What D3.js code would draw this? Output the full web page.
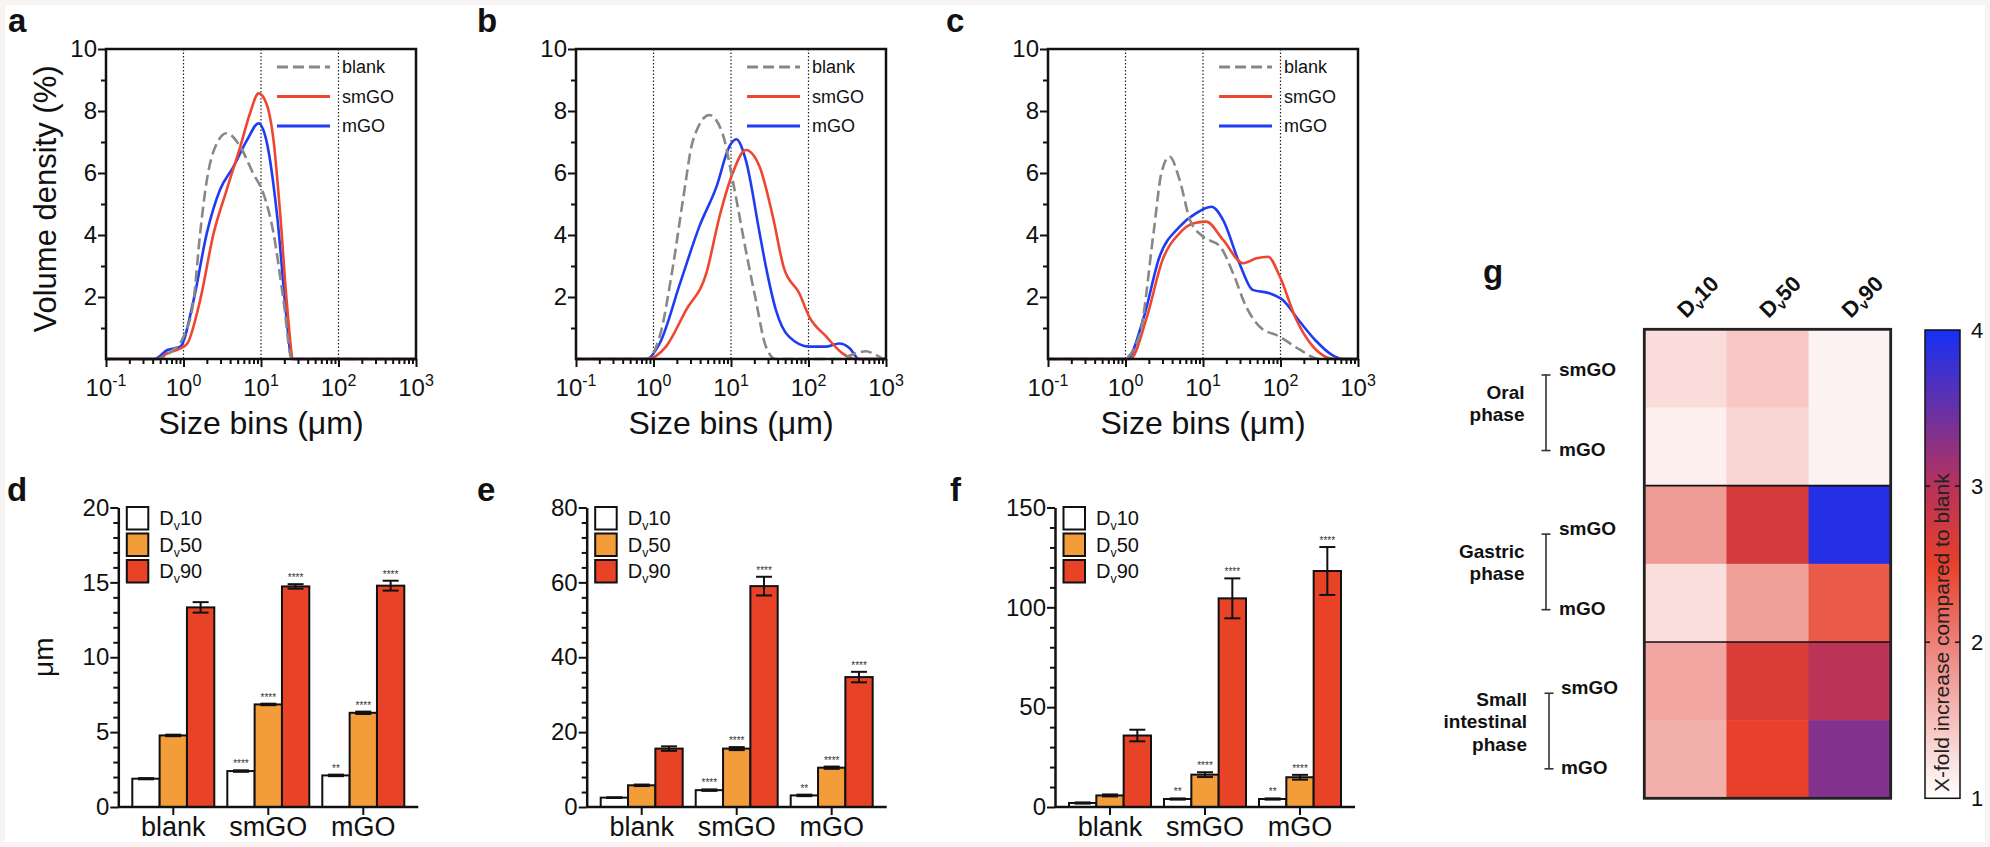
<!DOCTYPE html>
<html><head><meta charset="utf-8">
<script src="https://cdn.jsdelivr.net/npm/d3@7"></script>
<style>
body{margin:0;background:#f7f4f3;}
svg{display:block;font-family:"Liberation Sans",Arial,Helvetica,sans-serif;}
</style></head><body>
<svg id="fig" width="1990" height="847"></svg>
<script>
// ---------------- DATA ----------------
const seriesNames = ["blank", "smGO", "mGO"];
const sizeTicks = [0.1, 1, 10, 100, 1000];
const sizeTickExp = ["-1", "0", "1", "2", "3"];
const volTicks = [2, 4, 6, 8, 10];

// panel a (oral) : [size µm, volume density %]
const aBlank = [[0.1,0],[0.46,0],[0.7,0.25],[1.0,0.72],[1.35,1.9],[1.64,4.06],[2.0,5.77],[2.7,6.96],[3.6,7.28],[5.4,6.85],[7.9,5.99],[10.7,5.35],[14.5,4.06],[19.5,1.9],[25,0],[1000,0]];
const aSmGO  = [[0.1,0],[0.46,0],[0.62,0.18],[0.91,0.34],[1.12,0.5],[1.64,1.9],[2.45,4.06],[3.6,5.45],[5.4,6.85],[7.2,7.92],[9.3,8.57],[11.7,8.25],[14.5,7.06],[17.8,4.59],[21.4,1.9],[26.3,0],[1000,0]];
const aMGO   = [[0.1,0],[0.42,0],[0.62,0.29],[0.91,0.4],[1.35,1.9],[2.0,4.06],[2.95,5.45],[4.4,6.2],[6.6,7.06],[9.3,7.6],[11.7,7.06],[16.2,4.59],[21.4,1.3],[25,0],[1000,0]];
// panel b (gastric)
const bBlank = [[0.1,0],[0.81,0],[1.2,0.72],[1.78,2.98],[2.4,5.13],[3.24,7.06],[5.25,7.87],[7.76,7.28],[10.5,5.77],[15.5,3.52],[20.9,1.9],[28.2,0.4],[38,0],[250,0],[400,0.18],[550,0.25],[720,0.15],[950,0],[1000,0]];
const bSmGO  = [[0.1,0],[0.81,0],[1.45,0.4],[2.63,1.58],[4.8,2.76],[7.1,4.59],[10.5,5.99],[15.5,6.74],[23.4,6.2],[34.7,4.59],[48,2.95],[76,2.12],[102,1.37],[170,0.72],[275,0.18],[400,0],[1000,0]];
const bMGO   = [[0.1,0],[0.81,0],[1.2,0.5],[2.2,2.44],[3.9,4.27],[6.5,5.56],[9.5,6.85],[11.7,7.09],[15.5,6.42],[23.4,4.06],[28.2,2.98],[38,1.58],[56,0.72],[102,0.4],[170,0.4],[250,0.5],[340,0.35],[450,0],[1000,0]];
// panel c (small intestinal)
const cBlank = [[0.1,0],[0.93,0],[1.5,0.72],[2.3,4.06],[2.9,5.99],[3.7,6.53],[5.0,5.77],[6.8,4.48],[10,3.95],[16.6,3.63],[24.5,2.76],[36,1.69],[54,1.04],[98,0.72],[178,0.3],[316,0],[1000,0]];
const cSmGO  = [[0.1,0],[1.15,0],[1.86,1.3],[3.0,3.19],[5.0,4.06],[7.4,4.37],[11,4.43],[18.2,3.84],[33,3.09],[49,3.25],[69,3.3],[98,2.66],[158,1.3],[263,0.4],[400,0.05],[500,0],[1000,0]];
const cMGO   = [[0.1,0],[1.05,0],[1.7,1.3],[2.75,3.3],[5.0,4.27],[8.1,4.7],[12.9,4.91],[18.2,4.48],[29.5,3.09],[43.7,2.23],[72,2.12],[107,1.9],[178,1.2],[288,0.58],[450,0.15],[630,0],[1000,0]];

// bar panels: rows = blank, smGO, mGO ; cols = Dv10, Dv50, Dv90
const barGroups = ["blank", "smGO", "mGO"];
const barSeries = ["10", "50", "90"];
const dValues = [[1.89, 4.78, 13.33], [2.40, 6.85, 14.73], [2.11, 6.29, 14.78]];
const dErrors = [[0.04, 0.05, 0.35], [0.05, 0.05, 0.15], [0.05, 0.08, 0.33]];
const dStars  = [["", "", ""], ["****", "****", "****"], ["**", "****", "****"]];
const eValues = [[2.5, 5.8, 15.6], [4.5, 15.6, 59.0], [3.1, 10.5, 34.7]];
const eErrors = [[0.1, 0.2, 0.6], [0.2, 0.4, 2.5], [0.2, 0.3, 1.4]];
const eStars  = [["", "", ""], ["****", "****", "****"], ["**", "****", "****"]];
const fValues = [[2.0, 5.8, 35.8], [4.0, 16.2, 104.5], [4.0, 14.9, 118.2]];
const fErrors = [[0.3, 0.5, 2.9], [0.3, 1.2, 10.0], [0.3, 1.2, 12.0]];
const fStars  = [["", "", ""], ["**", "****", "****"], ["**", "****", "****"]];

// heatmap (x-fold increase compared to blank)
const phaseNames = [["Oral", "phase"], ["Gastric", "phase"], ["Small", "intestinal", "phase"]];
const sampleNames = ["smGO", "mGO"];
const heatCols = ["10", "50", "90"];
const heatValues = [
  [1.27, 1.43, 1.10],
  [1.12, 1.32, 1.10],
  [1.78, 2.70, 3.90],
  [1.25, 1.75, 2.30],
  [1.70, 2.65, 2.97],
  [1.62, 2.50, 3.33]
];
const colorbarTicks = [1, 2, 3, 4];
const colorStops = [1, 2, 2.5, 3, 4];
const colorStopColors = ["#ffffff", "#ec8078", "#e8402a", "#b8325a", "#1530f5"];

// ---------------- STYLE ----------------
const lineColors = {blank: "#888888", smGO: "#ef4630", mGO: "#1f3cf5"};
const barColors = ["#ffffff", "#f29c3a", "#e84327"];
const FONT = "Liberation Sans, Arial, Helvetica, sans-serif";

const svg = d3.select("#fig");
svg.append("rect").attr("width", 1990).attr("height", 847).attr("fill", "#f7f4f3");
svg.append("rect").attr("x", 5).attr("y", 5).attr("width", 1980).attr("height", 837).attr("fill", "#ffffff");

function panelLetter(t, x, y) {
  svg.append("text").attr("x", x).attr("y", y).attr("font-size", 33).attr("font-weight", "bold").attr("fill", "#111").text(t);
}
function styleAxis(sel, fs) {
  sel.attr("font-size", fs).attr("font-family", FONT);
  sel.selectAll(".tick line").attr("stroke", "#111").attr("stroke-width", 2);
  sel.selectAll(".tick text").attr("fill", "#111");
}

// ---------------- LINE PANELS ----------------
function drawDist(left, blank, sm, m, letter, letterX, yTitle) {
  const W = 310, top = 49, bottom = 359;
  const x = d3.scaleLog().domain([0.1, 1000]).range([left, left + W]);
  const y = d3.scaleLinear().domain([0, 10]).range([bottom, top]);
  const g = svg.append("g");
  [1, 10, 100].forEach(v => {
    g.append("line").attr("x1", x(v)).attr("x2", x(v)).attr("y1", top).attr("y2", bottom)
      .attr("stroke", "#222").attr("stroke-width", 1.2).attr("stroke-dasharray", "1.5,2");
  });
  const line = d3.line().x(d => x(d[0])).y(d => y(d[1])).curve(d3.curveMonotoneX);
  const sets = {blank: blank, smGO: sm, mGO: m};
  ["mGO", "smGO", "blank"].forEach(k => {
    g.append("path").attr("d", line(sets[k])).attr("fill", "none")
      .attr("stroke", lineColors[k]).attr("stroke-width", 2.6)
      .attr("stroke-dasharray", k === "blank" ? "11,5" : null);
  });
  g.append("rect").attr("x", left).attr("y", top).attr("width", W).attr("height", bottom - top)
    .attr("fill", "none").attr("stroke", "#111").attr("stroke-width", 2.5);
  // y axis
  const ya = g.append("g").attr("transform", `translate(${left},0)`)
    .call(d3.axisLeft(y).tickValues(volTicks).tickSize(8).tickPadding(1).tickFormat(d3.format("d")));
  ya.select(".domain").remove(); styleAxis(ya, 24);
  const ym = g.append("g").attr("transform", `translate(${left},0)`)
    .call(d3.axisLeft(y).tickValues([1, 3, 5, 7, 9]).tickSize(5).tickFormat(""));
  ym.select(".domain").remove(); styleAxis(ym, 10);
  // x axis
  const xa = g.append("g").attr("transform", `translate(0,${bottom})`)
    .call(d3.axisBottom(x).tickValues(sizeTicks).tickSize(8).tickFormat(""));
  xa.select(".domain").remove(); styleAxis(xa, 10);
  const minors = [];
  [0.1, 1, 10, 100].forEach(dv => { for (let k = 2; k <= 9; k++) minors.push(dv * k); });
  const xm = g.append("g").attr("transform", `translate(0,${bottom})`)
    .call(d3.axisBottom(x).tickValues(minors).tickSize(5).tickFormat(""));
  xm.select(".domain").remove(); styleAxis(xm, 10);
  sizeTicks.forEach((v, i) => {
    const t = g.append("text").attr("x", x(v)).attr("y", 396).attr("text-anchor", "middle")
      .attr("font-size", 24).attr("fill", "#111");
    t.append("tspan").text("10");
    t.append("tspan").attr("dy", -10).attr("font-size", 16).text(sizeTickExp[i]);
  });
  g.append("text").attr("x", left + W / 2).attr("y", 434).attr("text-anchor", "middle")
    .attr("font-size", 32).attr("fill", "#111").text("Size bins (μm)");
  if (yTitle) {
    g.append("text").attr("transform", `translate(${left - 50},${(top + bottom) / 2 - 5}) rotate(-90)`)
      .attr("text-anchor", "middle").attr("font-size", 31).attr("fill", "#111").text(yTitle);
  }
  // legend
  seriesNames.forEach((k, i) => {
    const ly = top + 18 + i * 29.5;
    g.append("line").attr("x1", left + 171).attr("x2", left + 224).attr("y1", ly).attr("y2", ly)
      .attr("stroke", lineColors[k]).attr("stroke-width", 2.8)
      .attr("stroke-dasharray", k === "blank" ? "11,5" : null);
    g.append("text").attr("x", left + 236).attr("y", ly + 6).attr("font-size", 18).attr("fill", "#111").text(k);
  });
  panelLetter(letter, letterX, 32);
}

drawDist(106, aBlank, aSmGO, aMGO, "a", 8, "Volume density (%)");
drawDist(576, bBlank, bSmGO, bMGO, "b", 477, null);
drawDist(1048, cBlank, cSmGO, cMGO, "c", 946, null);

// ---------------- BAR PANELS ----------------
function dLabel(sel, num, fs, sub) {
  sel.append("tspan").text("D");
  sel.append("tspan").attr("dy", sub).attr("font-size", fs * 0.62).text("v");
  sel.append("tspan").attr("dy", -sub).text(num);
}

function drawBars(x0, yMax, majors, minorStep, values, errors, stars, letter, letterX, yTitle) {
  const top = 507.5, bottom = 807, W = 300;
  const y = d3.scaleLinear().domain([0, yMax]).range([bottom, top]);
  const xg = d3.scaleBand().domain(barGroups).range([x0 + 7.5, x0 + 292.5]).paddingInner(0.137).paddingOuter(0.0685);
  const xs = d3.scaleBand().domain(barSeries).range([0, xg.bandwidth()]);
  const g = svg.append("g");
  barGroups.forEach((grp, i) => {
    barSeries.forEach((s, j) => {
      const v = values[i][j], e = errors[i][j];
      const bx = xg(grp) + xs(s), cx = bx + xs.bandwidth() / 2;
      g.append("rect").attr("x", bx).attr("y", y(v)).attr("width", xs.bandwidth()).attr("height", bottom - y(v))
        .attr("fill", barColors[j]).attr("stroke", "#111").attr("stroke-width", 2);
      g.append("line").attr("x1", cx).attr("x2", cx).attr("y1", y(v - e)).attr("y2", y(v + e)).attr("stroke", "#111").attr("stroke-width", 2);
      [v - e, v + e].forEach(val => {
        g.append("line").attr("x1", cx - 8).attr("x2", cx + 8).attr("y1", y(val)).attr("y2", y(val)).attr("stroke", "#111").attr("stroke-width", 2);
      });
      if (stars[i][j]) {
        g.append("text").attr("x", cx).attr("y", y(v + e) - 3).attr("text-anchor", "middle")
          .attr("font-size", 10).attr("fill", "#333").text(stars[i][j]);
      }
    });
  });
  const ya = g.append("g").attr("transform", `translate(${x0},0)`)
    .call(d3.axisLeft(y).tickValues(majors).tickSize(8).tickSizeOuter(0).tickPadding(1));
  ya.select(".domain").attr("stroke", "#111").attr("stroke-width", 2.5); styleAxis(ya, 24);
  const minors = d3.range(0, yMax + 0.001, minorStep).filter(v => !majors.includes(v));
  const ym = g.append("g").attr("transform", `translate(${x0},0)`)
    .call(d3.axisLeft(y).tickValues(minors).tickSize(5).tickFormat(""));
  ym.select(".domain").remove(); styleAxis(ym, 10);
  g.append("line").attr("x1", x0).attr("x2", x0 + W).attr("y1", bottom).attr("y2", bottom).attr("stroke", "#111").attr("stroke-width", 2.5);
  barGroups.forEach(grp => {
    const cx = xg(grp) + xg.bandwidth() / 2;
    g.append("line").attr("x1", cx).attr("x2", cx).attr("y1", bottom).attr("y2", bottom + 8).attr("stroke", "#111").attr("stroke-width", 2);
    g.append("text").attr("x", cx).attr("y", 836).attr("text-anchor", "middle").attr("font-size", 27).attr("fill", "#111").text(grp);
  });
  // legend
  barSeries.forEach((s, j) => {
    const ly = 507 + j * 26.5;
    g.append("rect").attr("x", x0 + 8.5).attr("y", ly).attr("width", 21.5).attr("height", 22.5)
      .attr("fill", barColors[j]).attr("stroke", "#111").attr("stroke-width", 2);
    const t = g.append("text").attr("x", x0 + 41).attr("y", ly + 18).attr("font-size", 20).attr("fill", "#111");
    dLabel(t, s, 20, 5);
  });
  if (yTitle) {
    g.append("text").attr("transform", `translate(${x0 - 65},${(top + bottom) / 2}) rotate(-90)`)
      .attr("text-anchor", "middle").attr("font-size", 28).attr("fill", "#111").text(yTitle);
  }
  panelLetter(letter, letterX, 501);
}

drawBars(118.3, 20, [0, 5, 10, 15, 20], 1, dValues, dErrors, dStars, "d", 7, "μm");
drawBars(586.7, 80, [0, 20, 40, 60, 80], 4, eValues, eErrors, eStars, "e", 477, null);
drawBars(1055, 150, [0, 50, 100, 150], 10, fValues, fErrors, fStars, "f", 950, null);

// ---------------- HEATMAP ----------------
(function () {
  const hx0 = 1644.3, hx1 = 1890.7, hy0 = 329.3, hy1 = 798.3;
  const rowKeys = [];
  phaseNames.forEach((p, pi) => sampleNames.forEach(s => rowKeys.push(pi + "-" + s)));
  const xb = d3.scaleBand().domain(heatCols).range([hx0, hx1]);
  const yb = d3.scaleBand().domain(rowKeys).range([hy0, hy1]);
  const color = d3.scaleLinear().domain(colorStops).range(colorStopColors).interpolate(d3.interpolateRgb);
  const g = svg.append("g");
  rowKeys.forEach((rk, ri) => {
    heatCols.forEach((c, ci) => {
      g.append("rect").attr("x", xb(c)).attr("y", yb(rk)).attr("width", xb.bandwidth() + 0.5).attr("height", yb.bandwidth() + 0.5)
        .attr("fill", color(heatValues[ri][ci]));
    });
  });
  [2, 4].forEach(ri => {
    const yy = yb(rowKeys[ri]);
    g.append("line").attr("x1", hx0).attr("x2", hx1).attr("y1", yy).attr("y2", yy).attr("stroke", "#111").attr("stroke-width", 1.6);
  });
  g.append("rect").attr("x", hx0).attr("y", hy0).attr("width", hx1 - hx0).attr("height", hy1 - hy0)
    .attr("fill", "none").attr("stroke", "#222").attr("stroke-width", 2.8);
  // column labels
  heatCols.forEach(c => {
    const cx = xb(c) + xb.bandwidth() / 2;
    const t = g.append("text").attr("transform", `translate(${cx + 1},${319}) rotate(-45)`)
      .attr("font-size", 22).attr("font-weight", "bold").attr("fill", "#111");
    dLabel(t, c, 22, 4);
  });
  // row labels, brackets, phase labels
  const labelCenters = rowKeys.map((rk, ri) => yb(rk) + yb.bandwidth() / 2 + 0.6 + 1.4 * ri);
  rowKeys.forEach((rk, ri) => {
    const pi = Math.floor(ri / 2);
    g.append("text").attr("x", pi === 2 ? 1561 : 1559).attr("y", labelCenters[ri] + 7)
      .attr("font-size", 19).attr("font-weight", "bold").attr("fill", "#111").text(sampleNames[ri % 2]);
  });
  phaseNames.forEach((lines, pi) => {
    const t0 = labelCenters[pi * 2] + 6, t1 = labelCenters[pi * 2 + 1] + 2;
    const bx = pi === 2 ? 1549 : 1546;
    g.append("line").attr("x1", bx).attr("x2", bx).attr("y1", t0).attr("y2", t1).attr("stroke", "#333").attr("stroke-width", 1.6);
    [t0, t1].forEach(yy => g.append("line").attr("x1", bx - 4.5).attr("x2", bx + 4.5).attr("y1", yy).attr("y2", yy).attr("stroke", "#333").attr("stroke-width", 1.6));
    const mid = (t0 + t1) / 2;
    lines.forEach((ln, k) => {
      g.append("text").attr("x", pi === 2 ? 1527 : 1524.5).attr("y", mid - 3 - (lines.length - 1) * 11.25 + k * 22.5)
        .attr("text-anchor", "end").attr("font-size", 19).attr("font-weight", "bold").attr("fill", "#111").text(ln);
    });
  });
  // colorbar
  const cbX = 1925, cbW = 35;
  const cbY = d3.scaleLinear().domain([1, 4]).range([hy1, 330]);
  const grad = svg.append("defs").append("linearGradient").attr("id", "cbgrad")
    .attr("x1", 0).attr("y1", 1).attr("x2", 0).attr("y2", 0);
  colorStops.forEach((v, i) => grad.append("stop").attr("offset", (v - 1) / 3).attr("stop-color", colorStopColors[i]));
  g.append("rect").attr("x", cbX).attr("y", cbY(4)).attr("width", cbW).attr("height", cbY(1) - cbY(4))
    .attr("fill", "url(#cbgrad)").attr("stroke", "#111").attr("stroke-width", 1.5);
  colorbarTicks.forEach(v => {
    const yy = cbY(v);
    if (v > 1 && v < 4) {
      g.append("line").attr("x1", cbX).attr("x2", cbX + 5).attr("y1", yy).attr("y2", yy).attr("stroke", "#111").attr("stroke-width", 1.5);
      g.append("line").attr("x1", cbX + cbW - 5).attr("x2", cbX + cbW).attr("y1", yy).attr("y2", yy).attr("stroke", "#111").attr("stroke-width", 1.5);
    }
    g.append("text").attr("x", 1971).attr("y", yy).attr("dy", "0.36em").attr("font-size", 22).attr("fill", "#111").text(v);
  });
  g.append("text").attr("transform", `translate(${cbX + 24},${792}) rotate(-90)`)
    .attr("font-size", 21).attr("fill", "#222").text("X-fold increase compared to blank");
  panelLetter("g", 1483, 283);
})();
</script>
</body></html>
